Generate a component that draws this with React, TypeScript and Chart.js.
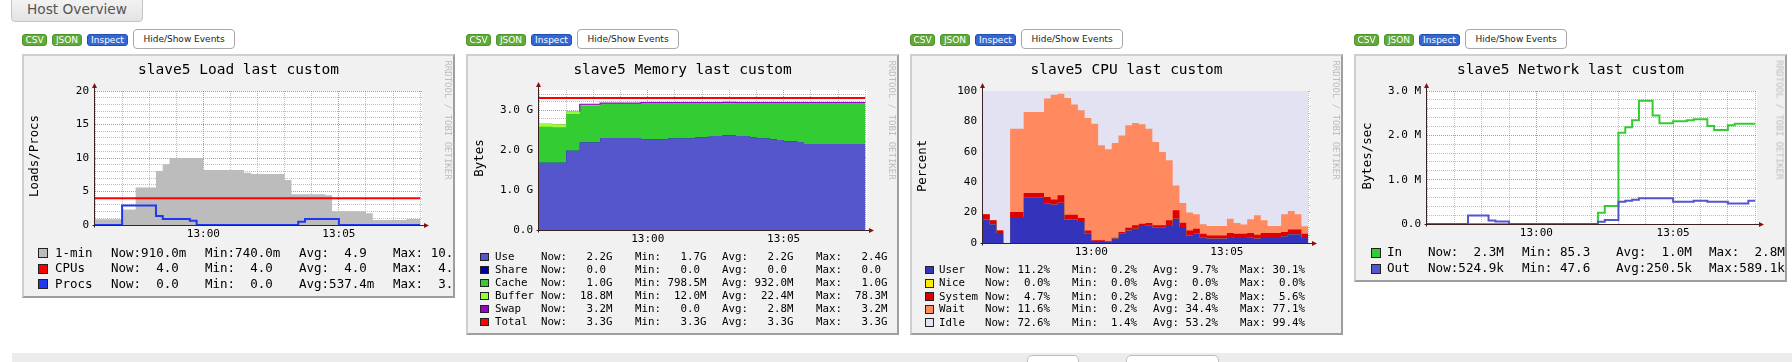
import React, { useEffect, useRef } from 'react';
import { Chart, registerables } from 'chart.js';

Chart.register(...registerables);

const MONO = '"DejaVu Sans Mono", monospace';
const SANS = '"DejaVu Sans", Verdana, sans-serif';

// ---------- time axis (samples every 15 s from 12:56:00) ----------
const sampleStepSeconds = 15;
const xAxisEndSeconds = 724;
const xMinorStepSeconds = 60;
const xTickLabels = ['13:00', '13:05'];
const xTickLabelSeconds = [240, 540];

// ---------- Load ----------
const loadOne = [0.85, 0.85, 0.85, 0.85, 0.85, 2.3, 2.3, 5.6, 5.6, 5.6, 8.05, 9.05, 10, 10, 10, 10, 10, 8.2, 8.2, 8.2, 8.2, 8.2, 8.2, 7.8, 7.6, 7.6, 7.6, 7.6, 7.6, 6.7, 4.6, 4.6, 4.6, 4.6, 4.6, 4.45, 2.05, 2.05, 2.05, 2.05, 2.05, 1.75, 0.75, 0.75, 0.75, 0.75, 0.75, 0.9, 0.9];
const loadCpus = [4, 4, 4, 4, 4, 4, 4, 4, 4, 4, 4, 4, 4, 4, 4, 4, 4, 4, 4, 4, 4, 4, 4, 4, 4, 4, 4, 4, 4, 4, 4, 4, 4, 4, 4, 4, 4, 4, 4, 4, 4, 4, 4, 4, 4, 4, 4, 4, 4];
const loadProcs = [0, 0, 0, 0, 0, 2.9, 2.9, 2.9, 2.9, 2.9, 1.35, 0.9, 0.9, 0.9, 0.9, 0.65, 0, 0, 0, 0, 0, 0, 0, 0, 0, 0, 0, 0, 0, 0, 0, 0.5, 0.9, 0.9, 0.9, 0.9, 0.9, 0, 0, 0, 0, 0, 0, 0, 0, 0, 0, 0, 0];
const loadYTickLabels = ['0', '5', '10', '15', '20'];
const loadLegendNames = ['1-min', 'CPUs', 'Procs'];
const loadLegendStats = [
  ['Now:910.0m', 'Min:740.0m', 'Avg:  4.9 ', 'Max: 10.0 '],
  ['Now:  4.0 ', 'Min:  4.0 ', 'Avg:  4.0 ', 'Max:  4.0 '],
  ['Now:  0.0 ', 'Min:  0.0 ', 'Avg:537.4m', 'Max:  3.0 '],
];
const loadColors = ['#bcbcbc', '#ff0000', '#2038ee'];

// ---------- Memory (GB) ----------
const memUse = [1.68, 1.68, 1.68, 1.68, 1.68, 1.98, 1.98, 2.19, 2.19, 2.19, 2.3, 2.3, 2.3, 2.3, 2.3, 2.3, 2.27, 2.27, 2.27, 2.27, 2.29, 2.29, 2.29, 2.29, 2.32, 2.32, 2.35, 2.35, 2.37, 2.37, 2.35, 2.35, 2.32, 2.29, 2.29, 2.27, 2.25, 2.22, 2.22, 2.2, 2.15, 2.15, 2.15, 2.15, 2.15, 2.15, 2.15, 2.15, 2.15];
const memShare = [0, 0, 0, 0, 0, 0, 0, 0, 0, 0, 0, 0, 0, 0, 0, 0, 0, 0, 0, 0, 0, 0, 0, 0, 0, 0, 0, 0, 0, 0, 0, 0, 0, 0, 0, 0, 0, 0, 0, 0, 0, 0, 0, 0, 0, 0, 0, 0, 0];
const memCache = [0.9, 0.9, 0.9, 0.89, 0.89, 0.92, 0.92, 0.92, 0.92, 0.92, 0.85, 0.85, 0.85, 0.85, 0.85, 0.85, 0.89, 0.89, 0.89, 0.89, 0.87, 0.87, 0.87, 0.87, 0.84, 0.84, 0.81, 0.81, 0.8, 0.8, 0.81, 0.81, 0.84, 0.87, 0.87, 0.89, 0.91, 0.94, 0.94, 0.96, 1.01, 1.01, 1.01, 1.01, 1.01, 1.01, 1.01, 1.01, 1.01];
const memBuffer = [0.078, 0.078, 0.078, 0.075, 0.075, 0.06, 0.06, 0.03, 0.03, 0.03, 0.019, 0.019, 0.019, 0.019, 0.019, 0.019, 0.019, 0.019, 0.019, 0.019, 0.019, 0.019, 0.019, 0.019, 0.019, 0.019, 0.019, 0.019, 0.019, 0.019, 0.019, 0.019, 0.019, 0.019, 0.019, 0.019, 0.019, 0.019, 0.019, 0.019, 0.019, 0.019, 0.019, 0.019, 0.019, 0.019, 0.019, 0.019, 0.019];
const memSwap = [0, 0, 0, 0, 0, 0, 0, 0.0032, 0.0032, 0.0032, 0.0032, 0.0032, 0.0032, 0.0032, 0.0032, 0.0032, 0.0032, 0.0032, 0.0032, 0.0032, 0.0032, 0.0032, 0.0032, 0.0032, 0.0032, 0.0032, 0.0032, 0.0032, 0.0032, 0.0032, 0.0032, 0.0032, 0.0032, 0.0032, 0.0032, 0.0032, 0.0032, 0.0032, 0.0032, 0.0032, 0.0032, 0.0032, 0.0032, 0.0032, 0.0032, 0.0032, 0.0032, 0.0032, 0.0032];
const memTotal = [3.3, 3.3, 3.3, 3.3, 3.3, 3.3, 3.3, 3.3, 3.3, 3.3, 3.3, 3.3, 3.3, 3.3, 3.3, 3.3, 3.3, 3.3, 3.3, 3.3, 3.3, 3.3, 3.3, 3.3, 3.3, 3.3, 3.3, 3.3, 3.3, 3.3, 3.3, 3.3, 3.3, 3.3, 3.3, 3.3, 3.3, 3.3, 3.3, 3.3, 3.3, 3.3, 3.3, 3.3, 3.3, 3.3, 3.3, 3.3, 3.3];
const memYTickLabels = ['0.0', '1.0 G', '2.0 G', '3.0 G'];
const memLegendNames = ['Use', 'Share', 'Cache', 'Buffer', 'Swap', 'Total'];
const memLegendStats = [
  ['Now:   2.2G', 'Min:   1.7G', 'Avg:   2.2G', 'Max:   2.4G'],
  ['Now:   0.0 ', 'Min:   0.0 ', 'Avg:   0.0 ', 'Max:   0.0 '],
  ['Now:   1.0G', 'Min: 798.5M', 'Avg: 932.0M', 'Max:   1.0G'],
  ['Now:  18.8M', 'Min:  12.0M', 'Avg:  22.4M', 'Max:  78.3M'],
  ['Now:   3.2M', 'Min:   0.0 ', 'Avg:   2.8M', 'Max:   3.2M'],
  ['Now:   3.3G', 'Min:   3.3G', 'Avg:   3.3G', 'Max:   3.3G'],
];
const memColors = ['#5555cc', '#0000aa', '#33cc33', '#99ff33', '#9900cc', '#ff0000'];

// ---------- CPU (%) ----------
const cpuUser = [15.4, 15.4, 12.3, 6.6, 0, 17.1, 17.1, 30.1, 30.1, 30.1, 25.9, 25.4, 26.5, 15.4, 15.4, 13.8, 6.1, 1.3, 1.3, 0.9, 2.9, 6.1, 8.3, 9.4, 11.2, 11.6, 10.1, 10.1, 11.2, 16.0, 10.5, 5.0, 6.1, 3.5, 2.9, 2.9, 2.9, 3.9, 3.3, 3.3, 3.5, 2.9, 3.3, 3.3, 3.3, 4.4, 5.7, 5.7, 3.3];
const cpuNice = [0, 0, 0, 0, 0, 0, 0, 0, 0, 0, 0, 0, 0, 0, 0, 0, 0, 0, 0, 0, 0, 0, 0, 0, 0, 0, 0, 0, 0, 0, 0, 0, 0, 0, 0, 0, 0, 0, 0, 0, 0, 0, 0, 0, 0, 0, 0, 0, 0];
const cpuSystem = [3.5, 3.5, 2.6, 1.7, 0, 3.3, 3.3, 2.8, 2.8, 2.8, 4.4, 3.3, 4.9, 3.2, 3.2, 2.6, 2.2, 0.5, 0.5, 0.4, 0.6, 1.1, 1.8, 2.2, 1.5, 1.6, 1.5, 1.5, 3.7, 5.6, 2.9, 3.3, 3.3, 2.6, 2.1, 2.1, 2.1, 2.7, 2.8, 2.8, 3.1, 2.6, 3.3, 3.3, 3.3, 2.8, 3.1, 3.1, 2.8];
const cpuWait = [0.2, 0.2, 0.2, 0.2, 0, 54.8, 54.8, 53.3, 53.3, 53.3, 64.7, 68.9, 66.8, 76.8, 72.6, 70.9, 73.9, 76.7, 62.5, 60.3, 62.3, 63.6, 67.3, 67.3, 65.4, 62.0, 54.8, 48.3, 39.5, 16.3, 12.9, 11.7, 9.5, 6.2, 6.2, 6.2, 6.2, 9.4, 7.1, 6.0, 9.0, 12.7, 8.3, 4.6, 4.6, 11.7, 12.2, 10.1, 4.9];
const cpuIdle = [80.9, 80.9, 84.9, 91.5, 100, 24.8, 24.8, 13.8, 13.8, 13.8, 5.0, 2.4, 1.8, 4.6, 8.8, 12.7, 17.8, 21.5, 35.7, 38.4, 34.2, 29.2, 22.6, 21.1, 21.9, 24.8, 33.6, 40.1, 45.6, 62.1, 73.7, 80.0, 81.1, 87.7, 88.8, 88.8, 88.8, 84.0, 86.8, 87.9, 84.4, 81.8, 85.1, 88.8, 88.8, 81.1, 79.0, 81.1, 89.0];
const cpuYTickLabels = ['0', '20', '40', '60', '80', '100'];
const cpuLegendNames = ['User', 'Nice', 'System', 'Wait', 'Idle'];
const cpuLegendStats = [
  ['Now: 11.2%', 'Min:  0.2%', 'Avg:  9.7%', 'Max: 30.1%'],
  ['Now:  0.0%', 'Min:  0.0%', 'Avg:  0.0%', 'Max:  0.0%'],
  ['Now:  4.7%', 'Min:  0.2%', 'Avg:  2.8%', 'Max:  5.6%'],
  ['Now: 11.6%', 'Min:  0.2%', 'Avg: 34.4%', 'Max: 77.1%'],
  ['Now: 72.6%', 'Min:  1.4%', 'Avg: 53.2%', 'Max: 99.4%'],
];
const cpuColors = ['#3333bb', '#ffea00', '#dd0000', '#ff8a60', '#e2e2f2'];

// ---------- Network (MB/s) ----------
const netIn = [0, 0, 0, 0, 0, 0, 0, 0, 0, 0, 0, 0, 0, 0, 0, 0, 0, 0, 0, 0, 0, 0, 0, 0, 0, 0, 0.255, 0.405, 0.405, 2.06, 2.18, 2.34, 2.78, 2.78, 2.45, 2.27, 2.27, 2.32, 2.32, 2.34, 2.36, 2.36, 2.21, 2.12, 2.12, 2.23, 2.26, 2.26, 2.26];
const netOut = [0, 0, 0, 0, 0, 0, 0, 0.19, 0.19, 0.19, 0.08, 0.055, 0.055, 0, 0, 0, 0, 0, 0, 0, 0, 0, 0, 0, 0, 0, 0.05, 0.09, 0.09, 0.5, 0.525, 0.545, 0.58, 0.58, 0.58, 0.58, 0.58, 0.5, 0.5, 0.5, 0.525, 0.525, 0.5, 0.5, 0.5, 0.465, 0.465, 0.465, 0.525];
const netYTickLabels = ['0.0', '1.0 M', '2.0 M', '3.0 M'];
const netLegendNames = ['In', 'Out'];
const netLegendStats = [
  ['Now:  2.3M', 'Min: 85.3 ', 'Avg:  1.0M', 'Max:  2.8M'],
  ['Now:524.9k', 'Min: 47.6 ', 'Avg:250.5k', 'Max:589.1k'],
];
const netColors = ['#33cc33', '#5555cc'];

// ---------- style ----------
const GRID = 'rgba(135,135,135,0.55)';
const MGRID = 'rgba(222,48,48,0.6)';
const AXIS = '#3a2222';
const ARROW = '#8b0f0f';
const BACK = '#f1f1f1';

const pts = (vals: number[]) => vals.map((y, i) => ({ x: i * sampleStepSeconds, y }));

const areaDs = (label: string, vals: number[], color: string, extra: any = {}) => ({
  label, data: pts(vals), backgroundColor: color, borderColor: 'rgba(0,0,0,0)', borderWidth: 0,
  fill: 'origin', stepped: 'after', pointRadius: 0, ...extra,
});
const lineDs = (label: string, vals: number[], color: string, extra: any = {}) => ({
  label, data: pts(vals), borderColor: color, backgroundColor: color, borderWidth: 2,
  fill: false, stepped: 'after', pointRadius: 0, ...extra,
});

type Box = { x: number; y: number; w: number; h: number };
type Plot = { L: number; R: number; T: number; B: number };

interface GraphDef {
  box: Box; plot: Plot; title: string; yTitle: string; yTitleX: number; yTitleY: number;
  yMax: number; yMinor: number; yMajor: number; yLabels: string[]; stacked: boolean;
  makeDatasets: () => any[];
  names: string[]; colors: string[]; stats: string[][]; rowY: number[]; legendFont: number;
  swatchX: number; swatch: number; nameX: number; colX: number[];
}

const graphs: GraphDef[] = [
  {
    box: { x: 22, y: 54, w: 433, h: 244 }, plot: { L: 95, R: 422, T: 91, B: 225 },
    title: 'slave5 Load last custom', yTitle: 'Loads/Procs', yTitleX: 33.5, yTitleY: 156,
    yMax: 20, yMinor: 1, yMajor: 5, yLabels: loadYTickLabels, stacked: false,
    makeDatasets: () => [
      lineDs('Procs', loadProcs, loadColors[2]),
      lineDs('CPUs', loadCpus, loadColors[1]),
      areaDs('1-min', loadOne, loadColors[0]),
    ],
    names: loadLegendNames, colors: loadColors, stats: loadLegendStats,
    rowY: [253.3, 268.5, 284], legendFont: 12.5, swatchX: 38, swatch: 10, nameX: 55, colX: [111, 205, 299, 393],
  },
  {
    box: { x: 466, y: 54, w: 433, h: 281 }, plot: { L: 539, R: 867, T: 90, B: 230 },
    title: 'slave5 Memory last custom', yTitle: 'Bytes', yTitleX: 478.5, yTitleY: 158,
    yMax: 3.5, yMinor: 0.2, yMajor: 1, yLabels: memYTickLabels, stacked: true,
    makeDatasets: () => [
      lineDs('Total', memTotal, memColors[5], { stack: 'total' }),
      areaDs('Use', memUse, memColors[0], { stack: 'mem' }),
      areaDs('Share', memShare, memColors[1], { stack: 'mem' }),
      areaDs('Cache', memCache, memColors[2], { stack: 'mem' }),
      areaDs('Buffer', memBuffer, memColors[3], { stack: 'mem' }),
      areaDs('Swap', memSwap, memColors[4], {
        stack: 'mem', borderWidth: 1.2, borderColor: memColors[4],
        segment: { borderColor: (c: any) => (memSwap[c.p1DataIndex] > 0 ? memColors[4] : 'rgba(0,0,0,0)') },
      }),
    ],
    names: memLegendNames, colors: memColors, stats: memLegendStats,
    rowY: [257, 270, 283, 296, 309, 322], legendFont: 10.8, swatchX: 480, swatch: 8.5, nameX: 495, colX: [541, 635, 722, 816],
  },
  {
    box: { x: 910, y: 54, w: 433, h: 281 }, plot: { L: 983, R: 1310, T: 91, B: 243 },
    title: 'slave5 CPU last custom', yTitle: 'Percent', yTitleX: 922, yTitleY: 166,
    yMax: 100, yMinor: 5, yMajor: 20, yLabels: cpuYTickLabels, stacked: true,
    makeDatasets: () => [
      areaDs('User', cpuUser, cpuColors[0]),
      areaDs('Nice', cpuNice, cpuColors[1]),
      areaDs('System', cpuSystem, cpuColors[2]),
      areaDs('Wait', cpuWait, cpuColors[3]),
      areaDs('Idle', cpuIdle, cpuColors[4]),
    ],
    names: cpuLegendNames, colors: cpuColors, stats: cpuLegendStats,
    rowY: [270, 283.3, 296.7, 309.6, 322.7], legendFont: 10.8, swatchX: 925, swatch: 8.5, nameX: 939, colX: [985, 1072, 1153, 1240],
  },
  {
    box: { x: 1354, y: 54, w: 433, h: 228 }, plot: { L: 1427, R: 1757, T: 91, B: 224 },
    title: 'slave5 Network last custom', yTitle: 'Bytes/sec', yTitleX: 1366.5, yTitleY: 156,
    yMax: 3, yMinor: 0.2, yMajor: 1, yLabels: netYTickLabels, stacked: false,
    makeDatasets: () => [lineDs('Out', netOut, netColors[1]), lineDs('In', netIn, netColors[0])],
    names: netLegendNames, colors: netColors, stats: netLegendStats,
    rowY: [252.5, 268.5], legendFont: 12.6, swatchX: 1371, swatch: 10, nameX: 1387, colX: [1428, 1522, 1616, 1709],
  },
];

const plotBackground = {
  id: 'plotBackground',
  beforeDraw(chart: any) {
    const { ctx, chartArea: a } = chart;
    ctx.save();
    ctx.fillStyle = '#ffffff';
    ctx.fillRect(a.left, a.top, a.right - a.left, a.bottom - a.top);
    ctx.restore();
  },
};

const rrdAxes = {
  id: 'rrdAxes',
  afterDraw(chart: any) {
    const { ctx, chartArea: a } = chart;
    const x0 = Math.round(a.left) - 0.5;
    const y0 = Math.round(a.bottom) + 0.5;
    ctx.save();
    ctx.strokeStyle = AXIS;
    ctx.lineWidth = 1;
    ctx.setLineDash([]);
    ctx.beginPath();
    ctx.moveTo(x0, y0 + 2);
    ctx.lineTo(x0, a.top - 3);
    ctx.moveTo(x0 - 2, y0);
    ctx.lineTo(a.right + 2, y0);
    ctx.stroke();
    ctx.fillStyle = ARROW;
    ctx.beginPath();
    ctx.moveTo(x0 - 2.5, a.top - 3);
    ctx.lineTo(x0 + 2.5, a.top - 3);
    ctx.lineTo(x0, a.top - 8);
    ctx.closePath();
    ctx.fill();
    ctx.beginPath();
    ctx.moveTo(a.right + 2, y0 - 2.5);
    ctx.lineTo(a.right + 2, y0 + 2.5);
    ctx.lineTo(a.right + 7, y0);
    ctx.closePath();
    ctx.fill();
    ctx.restore();
  },
};

const isMultiple = (v: number, step: number) => Math.abs(v / step - Math.round(v / step)) < 1e-6;

function RrdChart({ g }: { g: GraphDef }) {
  const ref = useRef<HTMLCanvasElement | null>(null);
  const ox = g.box.x + 2;
  const oy = g.box.y + 2;
  const cw = g.box.w - 4;
  const ch = g.box.h - 4;
  useEffect(() => {
    const YW = 50;
    const XH = 20;
    const chart = new Chart(ref.current as HTMLCanvasElement, {
      type: 'line',
      data: { datasets: g.makeDatasets() },
      options: {
        animation: false, responsive: false, maintainAspectRatio: false, devicePixelRatio: 1, events: [],
        layout: {
          autoPadding: false,
          padding: { left: g.plot.L - ox - YW, top: g.plot.T - oy, right: ox + cw - g.plot.R, bottom: oy + ch - g.plot.B - XH },
        },
        elements: { point: { radius: 0, hoverRadius: 0 }, line: { tension: 0 } },
        plugins: {
          legend: { display: false }, tooltip: { enabled: false }, title: { display: false },
          filler: { drawTime: 'beforeDatasetsDraw', propagate: false },
        },
        scales: {
          x: {
            type: 'linear', min: 0, max: xAxisEndSeconds, z: 1,
            afterFit: (s: any) => { s.height = XH; },
            grid: { color: (c: any) => (isMultiple(c.tick.value - xTickLabelSeconds[0], 300) ? MGRID : GRID), lineWidth: 1, drawTicks: false },
            border: { display: false, dash: [1, 1] },
            ticks: {
              stepSize: xMinorStepSeconds, autoSkip: false, maxRotation: 0, minRotation: 0, includeBounds: false,
              padding: 3, color: '#000', font: { family: MONO, size: 11 },
              callback: (v: any) => { const i = xTickLabelSeconds.indexOf(Number(v)); return i >= 0 ? xTickLabels[i] : ''; },
            },
          },
          y: {
            type: 'linear', min: 0, max: g.yMax, stacked: g.stacked, z: 1,
            afterFit: (s: any) => { s.width = YW; },
            grid: { color: (c: any) => (isMultiple(c.tick.value, g.yMajor) ? MGRID : GRID), lineWidth: 1, drawTicks: false },
            border: { display: false, dash: [1, 1] },
            ticks: {
              stepSize: g.yMinor, autoSkip: false, includeBounds: false, padding: 6, color: '#000',
              font: { family: MONO, size: 11 },
              callback: (v: any) => { const n = Number(v); if (!isMultiple(n, g.yMajor)) return ''; return g.yLabels[Math.round(n / g.yMajor)] ?? ''; },
            },
          },
        },
      } as any,
      plugins: [plotBackground, rrdAxes],
    });
    return () => chart.destroy();
  }, []);
  return <canvas ref={ref} width={cw} height={ch} style={{ position: 'absolute', left: 0, top: 0, width: cw, height: ch }} />;
}

function Txt({ x, yc, fs, align = 'left', color = '#000', family = MONO, children }: any) {
  const style: any = { position: 'absolute', top: yc - 0.481 * fs, fontFamily: family, fontSize: fs, lineHeight: `${fs}px`, color, whiteSpace: 'pre' };
  if (align === 'left') style.left = x;
  else if (align === 'center') { style.left = x - 300; style.width = 600; style.textAlign = 'center'; }
  else { style.left = x - 600; style.width = 600; style.textAlign = 'right'; }
  return <div style={style}>{children}</div>;
}

function Rot({ cx, cy, fs, deg, color = '#000', children }: any) {
  return (
    <div style={{ position: 'absolute', left: cx, top: cy, transform: `translate(-50%, -50%) rotate(${deg}deg)`, fontFamily: MONO, fontSize: fs, lineHeight: `${fs}px`, color, whiteSpace: 'pre' }}>
      {children}
    </div>
  );
}

function Graph({ g }: { g: GraphDef }) {
  const ox = g.box.x + 2;
  const oy = g.box.y + 2;
  return (
    <div style={{ position: 'absolute', left: g.box.x, top: g.box.y, width: g.box.w, height: g.box.h, boxSizing: 'border-box', borderStyle: 'solid', borderWidth: 2, borderColor: '#cfcfcf #9e9e9e #9e9e9e #cfcfcf', background: BACK, overflow: 'hidden' }}>
      <RrdChart g={g} />
      <Txt x={g.box.x + g.box.w / 2 - ox} yc={69.2 - oy} fs={14.5} align="center">{g.title}</Txt>
      <Rot cx={g.yTitleX - ox} cy={g.yTitleY - oy} fs={12.4} deg={-90}>{g.yTitle}</Rot>
      <Rot cx={g.box.x + 424.5 - ox} cy={120 - oy} fs={9} deg={90} color="#bdbdbd">RRDTOOL / TOBI OETIKER</Rot>
      {g.names.map((name, i) => (
        <React.Fragment key={name}>
          <div style={{ position: 'absolute', left: g.swatchX - ox, top: g.rowY[i] - g.swatch / 2 - oy, width: g.swatch, height: g.swatch, boxSizing: 'border-box', border: '1px solid #222', background: g.colors[i] }} />
          <Txt x={g.nameX - ox} yc={g.rowY[i] - oy} fs={g.legendFont}>{name}</Txt>
          {g.stats[i].map((s, j) => (<Txt key={j} x={g.colX[j] - ox} yc={g.rowY[i] - oy} fs={g.legendFont}>{s}</Txt>))}
        </React.Fragment>
      ))}
    </div>
  );
}

function SmallButton({ x, w, label, bg, border }: any) {
  return (
    <div style={{ position: 'absolute', left: x, top: 34, width: w, height: 12, boxSizing: 'border-box', background: bg, border: `1px solid ${border}`, borderRadius: 3, color: '#fff', fontFamily: SANS, fontSize: 9, lineHeight: '10px', textAlign: 'center' }}>
      {label}
    </div>
  );
}

function ButtonRow({ x }: { x: number }) {
  return (
    <>
      <SmallButton x={x} w={25} label="CSV" bg="#62aa38" border="#4e9428" />
      <SmallButton x={x + 30} w={30} label="JSON" bg="#62aa38" border="#4e9428" />
      <SmallButton x={x + 65} w={41} label="Inspect" bg="#3467d6" border="#2350b0" />
      <div style={{ position: 'absolute', left: x + 111, top: 29, width: 102, height: 20, boxSizing: 'border-box', background: '#fff', border: '1px solid #a8a8a8', borderRadius: 4, color: '#222', fontFamily: SANS, fontSize: 9, lineHeight: '18px', textAlign: 'center' }}>
        Hide/Show Events
      </div>
    </>
  );
}

export default function App() {
  return (
    <div style={{ position: 'absolute', left: 0, top: 0, width: 1792, height: 362, overflow: 'hidden', background: '#fff' }}>
      <div style={{ position: 'absolute', left: 11, top: -6, width: 132, height: 28, boxSizing: 'border-box', border: '1px solid #c4c4c4', borderRadius: 4, background: 'linear-gradient(#f6f6f6, #e3e3e3)' }} />
      <div style={{ position: 'absolute', left: 11, top: 1, width: 132, textAlign: 'center', fontFamily: SANS, fontSize: 13.7, lineHeight: '17px', color: '#555' }}>Host Overview</div>
      {graphs.map((g) => (
        <React.Fragment key={g.title}>
          <ButtonRow x={g.box.x} />
          <Graph g={g} />
        </React.Fragment>
      ))}
      <div style={{ position: 'absolute', left: 12, top: 353, width: 1780, height: 12, background: '#ececec' }} />
      <div style={{ position: 'absolute', left: 1027, top: 355, width: 52, height: 12, boxSizing: 'border-box', background: '#fff', border: '1px solid #bdbdbd', borderRadius: '5px 5px 0 0' }} />
      <div style={{ position: 'absolute', left: 1126, top: 355, width: 93, height: 12, boxSizing: 'border-box', background: '#fff', border: '1px solid #bdbdbd', borderRadius: '5px 5px 0 0' }} />
    </div>
  );
}
